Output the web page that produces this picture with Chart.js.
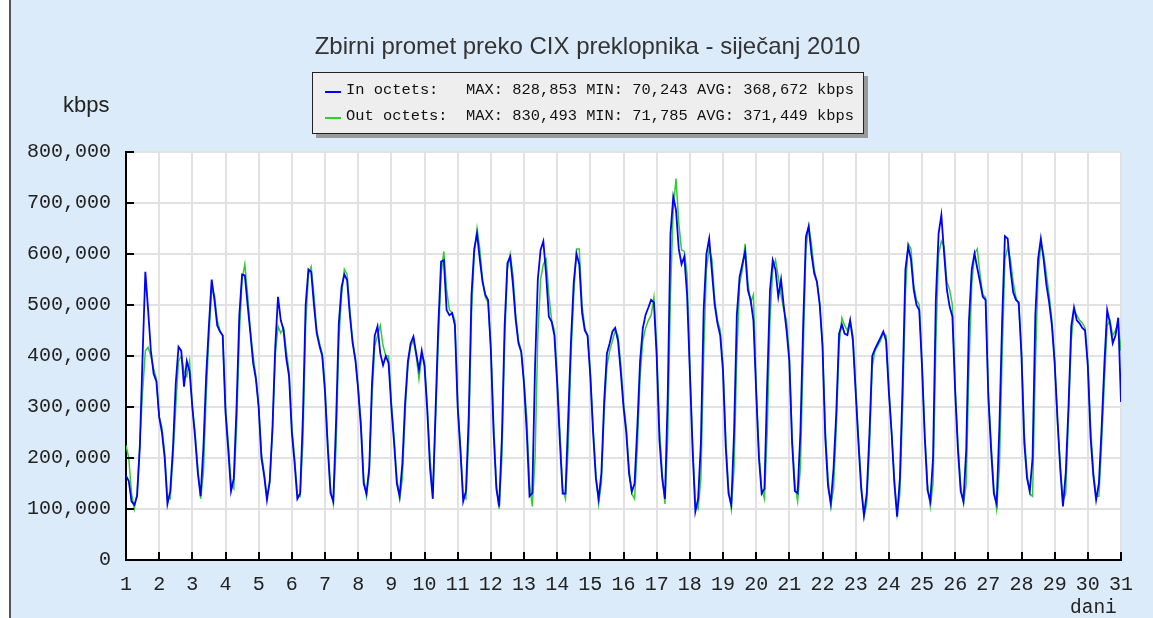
<!DOCTYPE html>
<html>
<head>
<meta charset="utf-8">
<script src="https://cdn.jsdelivr.net/npm/chart.js@4"></script>
<style>
  html, body { margin: 0; padding: 0; background: #ffffff; }
  #wrap { position: relative; width: 1153px; height: 618px; overflow: hidden; background: #ffffff; }
  #panel { position: absolute; left: 9px; top: 0; width: 1144px; height: 618px; background: #dcebf9; border-left: 2px solid #555; box-sizing: border-box; }
  #c { position: absolute; left: 0; top: 0; }
  .txt { position: absolute; white-space: pre; line-height: 1; }
  #title { left: 0; width: 1175px; text-align: center; top: 32px; font: 24px "Liberation Sans", Arial, sans-serif; color: #333; }
  #kbps { left: 63px; top: 92px; font: 22px "Liberation Sans", Arial, sans-serif; color: #222; }
  #dani { left: 1070px; top: 597px; font: 19.5px "Liberation Mono", monospace; color: #222; }
  #legend { position: absolute; left: 312px; top: 72px; width: 552px; height: 62px; background: #eeeeee; border: 1px solid #222; box-shadow: 4px 4px 0 #9a9a9a; box-sizing: border-box; }
  .row { position: absolute; left: 0; height: 20px; width: 100%; }
  .mark { position: absolute; left: 12px; top: 9px; width: 16px; height: 2px; }
  .ltxt { position: absolute; left: 33px; top: 1px; font: 15.4px "Liberation Mono", monospace; color: #111; white-space: pre; line-height: 1; }
</style>
</head>
<body>
<div id="wrap">
  <div id="panel"></div>
  <canvas id="c" width="1153" height="618"></canvas>
  <div id="title" class="txt">Zbirni promet preko CIX preklopnika - siječanj 2010</div>
  <div id="kbps" class="txt">kbps</div>
  <div id="dani" class="txt">dani</div>
  <div id="legend">
    <div class="row" style="top:9px"><div class="mark" style="background:#0000ff"></div><div class="ltxt">In octets:   MAX: 828,853 MIN: 70,243 AVG: 368,672 kbps</div></div>
    <div class="row" style="top:35px"><div class="mark" style="background:#33cc33"></div><div class="ltxt">Out octets:  MAX: 830,493 MIN: 71,785 AVG: 371,449 kbps</div></div>
  </div>
</div>
<script>
// Samples every 2 hours, from day 1 00:00 to day 31 00:00; values in thousands of kbps.
const SAMPLES_PER_DAY = 12;
const dayTicks = [1,2,3,4,5,6,7,8,9,10,11,12,13,14,15,16,17,18,19,20,21,22,23,24,25,26,27,28,29,30,31];
const yTickValues = [0,100000,200000,300000,400000,500000,600000,700000,800000];

const inOctetsK = [
  165,155,115,108,125,220,400,565,490,410,365,350,
  281,250,200,110,135,220,346,418,410,340,390,370,
  300,240,170,125,220,360,460,550,510,460,448,440,
  290,216,135,160,300,480,560,558,500,445,386,355,
  300,200,165,118,155,260,418,516,470,451,395,360,
  250,190,120,130,280,500,570,565,500,445,420,400,
  330,220,131,115,270,464,535,560,549,480,425,392,
  335,260,150,130,180,346,440,458,405,382,400,386,
  300,229,150,125,190,310,390,425,438,405,373,410,
  380,294,180,120,294,460,585,588,490,480,484,460,
  300,215,115,135,280,520,610,640,590,545,520,510,
  412,250,140,105,240,460,582,595,540,471,425,408,
  346,250,125,131,380,550,608,625,560,477,467,440,
  346,230,130,130,280,430,545,600,580,485,450,440,
  360,250,160,120,170,310,405,425,448,455,430,370,
  300,250,170,134,150,261,390,455,481,495,510,505,
  400,235,160,120,320,640,712,686,610,580,595,520,
  370,216,95,120,229,490,600,630,565,500,464,440,
  370,220,130,108,250,480,555,580,605,529,510,470,
  330,200,130,140,346,529,588,569,516,550,497,450,
  390,230,135,131,250,460,634,654,600,562,545,500,
  420,240,145,111,180,290,444,462,444,441,470,430,
  330,230,140,88,130,250,400,414,425,436,448,430,
  330,250,150,85,160,346,570,614,590,530,500,490,
  380,240,137,115,200,510,640,676,601,530,497,477,
  330,216,135,115,216,470,570,601,572,545,516,510,
  320,216,130,110,261,470,635,630,570,525,510,505,
  400,230,160,135,200,480,590,630,590,540,505,460,
  386,280,180,105,170,300,458,495,470,464,455,450,
  380,240,165,118,150,260,386,490,465,425,440,475,
  310
];

const outOctetsK = [
  225,200,130,100,130,230,330,410,417,400,375,355,
  280,260,210,120,120,200,300,390,400,370,360,390,
  300,250,180,120,170,320,440,530,520,470,450,440,
  300,230,150,140,260,440,550,580,520,450,400,360,
  300,210,170,125,150,250,400,458,445,455,410,370,
  260,200,130,125,230,460,560,575,520,450,425,405,
  340,230,140,110,220,430,520,570,560,490,430,395,
  335,270,160,125,170,320,420,440,460,420,400,400,
  310,240,160,120,160,290,380,420,430,400,355,400,
  390,300,200,130,270,430,560,605,530,490,485,470,
  310,220,125,120,240,480,600,650,610,550,515,505,
  420,270,150,100,200,430,570,600,560,480,430,410,
  350,280,150,105,200,440,550,580,590,520,470,450,
  360,250,140,120,220,400,520,610,610,500,455,440,
  370,260,170,110,150,290,380,410,430,450,440,385,
  310,260,180,130,120,220,360,430,455,470,480,515,
  420,260,170,110,240,520,690,748,660,608,605,560,
  380,230,110,100,160,400,570,610,590,510,470,450,
  380,240,140,100,180,400,540,570,620,545,505,520,
  340,210,140,120,250,470,570,588,555,520,490,470,
  400,240,150,115,180,400,610,655,620,570,545,505,
  420,260,160,105,140,260,420,475,460,450,470,440,
  340,240,150,85,110,220,380,410,420,430,445,440,
  340,250,160,90,130,300,520,620,610,540,510,500,
  390,250,150,105,150,420,600,625,615,545,530,500,
  340,230,145,110,150,380,540,600,610,560,520,515,
  330,230,140,100,180,400,590,612,590,545,515,500,
  410,250,170,130,125,380,560,620,600,560,520,470,
  390,270,190,115,130,280,430,490,480,470,465,455,
  390,260,175,125,125,230,350,460,470,440,450,465,
  410
];

function toPoints(arr) {
  return arr.map((v, i) => ({ x: dayTicks[0] + i / SAMPLES_PER_DAY, y: v * 1000 }));
}

const plotBg = {
  id: 'plotBg',
  beforeDraw(chart) {
    const { ctx, chartArea: a } = chart;
    ctx.save();
    ctx.fillStyle = '#ffffff';
    ctx.fillRect(a.left, a.top, a.right - a.left, a.bottom - a.top);
    ctx.restore();
  }
};

const innerTicks = {
  id: 'innerTicks',
  afterDraw(chart) {
    const { ctx, chartArea: a, scales } = chart;
    ctx.save();
    ctx.strokeStyle = '#000';
    ctx.lineWidth = 2;
    ctx.beginPath();
    yTickValues.forEach(v => {
      const y = Math.round(scales.y.getPixelForValue(v));
      ctx.moveTo(a.left, y);
      ctx.lineTo(a.left + 8, y);
    });
    dayTicks.forEach(d => {
      const x = Math.round(scales.x.getPixelForValue(d));
      ctx.moveTo(x, a.bottom);
      ctx.lineTo(x, a.bottom - 8);
    });
    ctx.stroke();
    ctx.restore();
  }
};

new Chart(document.getElementById('c'), {
  type: 'line',
  data: {
    datasets: [
      { label: 'In octets', data: toPoints(inOctetsK), borderColor: '#0000ff', borderWidth: 1.8, pointRadius: 0, tension: 0, fill: false },
      { label: 'Out octets', data: toPoints(outOctetsK), borderColor: '#33cc33', borderWidth: 1.5, pointRadius: 0, tension: 0, fill: false }
    ]
  },
  options: {
    responsive: false,
    animation: false,
    devicePixelRatio: 1,
    layout: { padding: { left: 0, right: 32, top: 152, bottom: 0 } },
    plugins: { legend: { display: false }, title: { display: false }, tooltip: { enabled: false } },
    scales: {
      x: {
        type: 'linear',
        min: 1, max: 31,
        afterFit(scale) { scale.height = 58; },
        afterBuildTicks(scale) { scale.ticks = dayTicks.map(v => ({ value: v })); },
        grid: { color: '#e2e2e2', lineWidth: 2, drawTicks: false },
        border: { display: true, color: '#000', width: 2 },
        ticks: { padding: 13, maxRotation: 0, autoSkip: false, color: '#222', font: { family: 'Liberation Mono', size: 20 }, callback: v => String(v) }
      },
      y: {
        min: 0, max: 800000,
        afterFit(scale) { scale.width = 126; },
        afterBuildTicks(scale) { scale.ticks = yTickValues.map(v => ({ value: v })); },
        grid: { color: '#e2e2e2', lineWidth: 2, drawTicks: false },
        border: { display: true, color: '#000', width: 2 },
        ticks: { padding: 15, color: '#222', font: { family: 'Liberation Mono', size: 20 }, callback: v => v.toLocaleString('en-US') }
      }
    }
  },
  plugins: [plotBg, innerTicks]
});
</script>
</body>
</html>
